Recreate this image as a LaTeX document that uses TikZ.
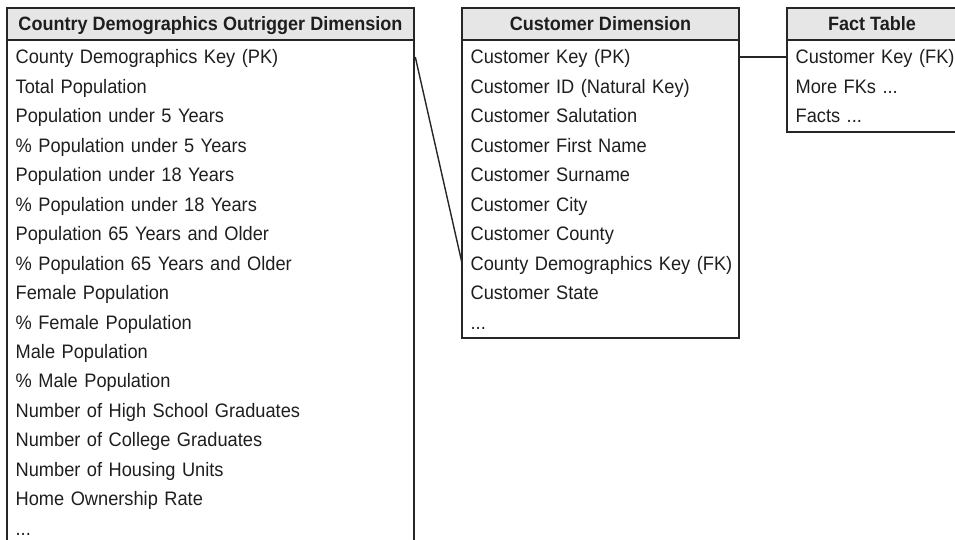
\documentclass[tikz,border=0pt]{standalone}
\usepackage{fontspec}
\setmainfont{Liberation Sans}[FakeStretch=0.935]
\definecolor{ln}{HTML}{262626}
\definecolor{hd}{HTML}{E6E6E6}
\definecolor{tx}{HTML}{1E1E1E}
\newcommand\myellip{...}
\begin{document}
\begin{tikzpicture}[x=1pt,y=-1pt,line width=1.3pt,
  hdr/.style={draw=ln,fill=hd,minimum height=32pt,inner sep=0pt,text height=16pt,text depth=2pt,
    font=\fontsize{19.3}{22}\selectfont\bfseries,text=tx},
  rowitem/.style={anchor=base west,inner xsep=8pt,inner ysep=0pt,text height=15pt,text depth=1pt,
    align=left,font=\fontsize{19.5}{22}\selectfont,text=tx},
  rowL/.style={rowitem,text width=391pt},
  rowC/.style={rowitem,text width=261pt},
  rowF/.style={rowitem,text width=153pt},
  body/.style={draw=ln},
  conn/.style={draw=ln,line width=1.4pt}]
\useasboundingbox (0,0) rectangle (955,540);
% bodies
\draw[body] (7,40) rectangle (414,560);
\draw[body] (462,40) rectangle (739,338);
\draw[body] (787,40) rectangle (957,132);
% headers
\node[hdr,minimum width=407pt] (Lh) at (210.5,24) {Country Demographics Outrigger Dimension};
\node[hdr,minimum width=277pt] (Ch) at (600.5,24) {Customer Dimension};
\node[hdr,minimum width=170pt] (Fh) at (872,24) {Fact Table};
% left rows
\foreach \t [count=\i] in {County Demographics Key (PK),Total Population,Population under 5 Years,
  \% Population under 5 Years,Population under 18 Years,\% Population under 18 Years,
  Population 65 Years and Older,\% Population 65 Years and Older,Female Population,
  \% Female Population,Male Population,\% Male Population,Number of High School Graduates,
  Number of College Graduates,Number of Housing Units,Home Ownership Rate,\myellip}
  \node[rowL] (L\i) at (7,{64+(\i-1)*29.45}) {\mbox{\t}};
% customer rows
\foreach \t [count=\i] in {Customer Key (PK),Customer ID (Natural Key),Customer Salutation,
  Customer First Name,Customer Surname,Customer City,Customer County,
  County Demographics Key (FK),Customer State,\myellip}
  \node[rowC] (C\i) at (462,{64+(\i-1)*29.45}) {\mbox{\t}};
% fact rows
\foreach \t [count=\i] in {Customer Key (FK),More FKs \myellip,Facts \myellip}
  \node[rowF] (F\i) at (787,{64+(\i-1)*29.45}) {\mbox{\t}};
% connectors
\draw[conn] (L1.east) -- (C8.west);
\draw[conn] (C1.east) -- (F1.west);
\end{tikzpicture}
\end{document}
